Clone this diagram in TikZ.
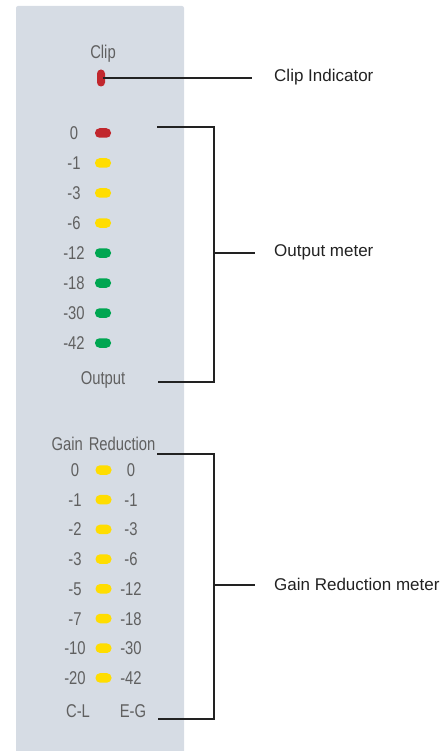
\documentclass[tikz,border=0pt]{standalone}
\usepackage{fontspec}
\setmainfont{Liberation Sans}
\newfontfamily\meterfont[FakeStretch=0.8]{Liberation Sans}
\usetikzlibrary{positioning,calc}
\definecolor{panelgray}{HTML}{D6DCE4}
\definecolor{ledred}{HTML}{C1272D}
\definecolor{ledyellow}{HTML}{FFDD00}
\definecolor{ledgreen}{HTML}{00A651}
\definecolor{scaletext}{HTML}{606060}
\definecolor{callouttext}{HTML}{222222}

\begin{document}
\begin{tikzpicture}[x=1pt,y=-1pt,
  led/.style={rectangle,rounded corners=4.5pt,minimum width=16pt,minimum height=9.5pt,inner sep=0pt},
  scalelabel/.style={font=\meterfont\fontsize{18.5}{18.5}\selectfont,text=scaletext,inner sep=0pt,anchor=base},
  callout/.style={font=\fontsize{17}{20}\selectfont,text=callouttext,inner sep=0pt,anchor=west},
  leader/.style={draw=callouttext,line width=1.1pt,preaction={draw=white,line width=2.8pt}}
]
\useasboundingbox (0,0) rectangle (441,751);
% panel
\fill[panelgray,rounded corners=2pt] (16,6) rectangle (184,770);

% clip led
\node[scalelabel] (cliptxt) at (103,58.5) {Clip};
\node[led,fill=ledred,minimum width=8pt,minimum height=17pt,rounded corners=4pt] (clipled) at (101,78) {};

% output meter
\foreach \lab/\col [count=\i from 0] in {0/ledred,-1/ledyellow,-3/ledyellow,-6/ledyellow,-12/ledgreen,-18/ledgreen,-30/ledgreen,-42/ledgreen} {
  \node[led,fill=\col] (out\i) at (103,{133+30*\i}) {};
  \node[scalelabel] (outlab\i) at (74,{139.5+30*\i}) {\lab};
}
\node[scalelabel] (outtxt) at (103,384) {Output};

% gain reduction meter
\node[scalelabel] (grtxt) at (103.5,450) {Gain\hspace{6pt}Reduction};
\foreach \left/\right [count=\i from 0] in {0/0,-1/-1,-2/-3,-3/-6,-5/-12,-7/-18,-10/-30,-20/-42} {
  \node[led,fill=ledyellow] (gr\i) at (103.5,{470+29.7*\i}) {};
  \node[scalelabel] (grl\i) at (75,{476.5+29.7*\i}) {\left};
  \node[scalelabel] (grr\i) at (131,{476.5+29.7*\i}) {\right};
}
\node[scalelabel] (cltxt) at (78,717) {C-L};
\node[scalelabel] (egtxt) at (133,717) {E-G};

% callouts
\node[callout] (cliplab) at (274,77) {Clip Indicator};
\node[callout] (outmeter) at (274,252) {Output meter};
\node[callout] (grmeter) at (274,584) {Gain Reduction meter};

\coordinate (clipend) at (252,78);
\coordinate (outtop) at (157,127);
\coordinate (outbot) at (158,382);
\coordinate (outspine) at (214,253);
\coordinate (outend) at (255,253);
\coordinate (grtop) at (157,454);
\coordinate (grbot) at (158,719);
\coordinate (grspine) at (214,585);
\coordinate (grend) at (255,585);

\draw[leader] ([xshift=-2pt]clipled.east) -- (clipend);
\draw[leader] (outtop) -| (outspine) |- (outbot);
\draw[leader] (outspine) -- (outend);
\draw[leader] (grtop) -| (grspine) |- (grbot);
\draw[leader] (grspine) -- (grend);
\end{tikzpicture}
\end{document}
